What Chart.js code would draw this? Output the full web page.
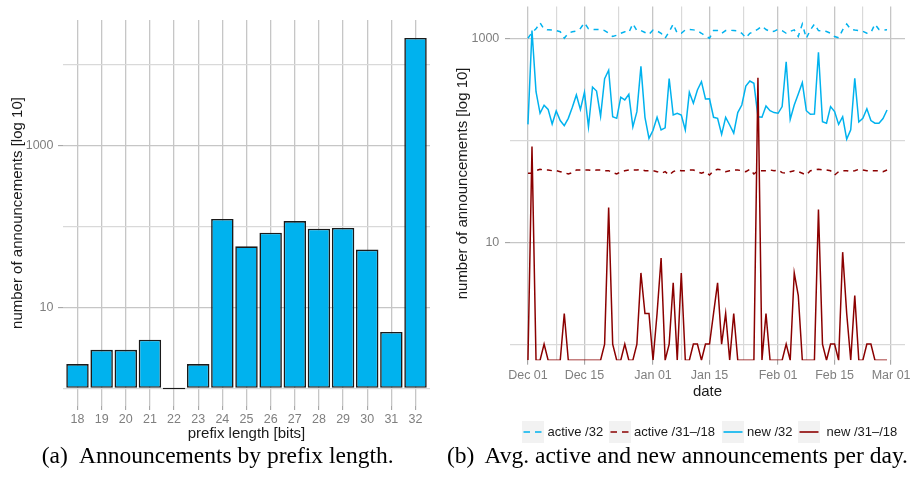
<!DOCTYPE html>
<html><head><meta charset="utf-8">
<script src="https://cdn.jsdelivr.net/npm/chart.js@4/dist/chart.umd.min.js"></script>
<style>
html,body{margin:0;padding:0;background:#fff;overflow:hidden;width:913px;height:481px;}
#wrap{position:relative;width:913px;height:481px;overflow:hidden;}
#c1{position:absolute;left:0;top:0;width:455px;height:445px;}
#c2{position:absolute;left:450px;top:-10px;width:470px;height:413px;}
.cap{position:absolute;top:444px;font-family:'Liberation Serif','Times New Roman',serif;font-size:23.5px;line-height:23px;white-space:nowrap;color:#000;}
.lg-key{position:absolute;top:420.5px;width:22px;height:22px;}
.lg-txt{position:absolute;top:420.5px;height:22px;line-height:22px;font-family:'Liberation Sans',Arial,sans-serif;font-size:13px;color:#1a1a1a;white-space:nowrap;}
</style></head>
<body><div id="wrap">
<canvas id="c1" width="455" height="445"></canvas>
<canvas id="c2" width="470" height="413"></canvas>
<span class="cap" style="left:41.7px">(a)</span>
<span class="cap" style="left:79px">Announcements by prefix length.</span>
<span class="cap" style="left:447px">(b)</span>
<span class="cap" style="left:484.5px">Avg. active and new announcements per day.</span>
<div id="legend"></div>
</div>
<script>
// ---------- Data: panel (a) ----------
const prefixLengths = [18,19,20,21,22,23,24,25,26,27,28,29,30,31,32];
const prefixAnnouncements = [2,3,3,4,1,2,124,57,84,117,94,96,52,5,21400];
const barYTickValues = [10,1000];
const barYTickLabels = ['10','1000'];
const barYMinorValues = [1,100,10000];

// ---------- Data: panel (b) ----------
const dateTickDays = [0,14,31,45,62,76,90];
const dateTickLabels = ['Dec 01','Dec 15','Jan 01','Jan 15','Feb 01','Feb 15','Mar 01'];
const dateMinorDays = [7,22.5,38,53.5,69,83];
const lineYTickValues = [10,1000];
const lineYTickLabels = ['10','1000'];
const lineYMinorValues = [1,100];
const seriesNames = ['active /32','active /31\u2013/18','new /32','new /31\u2013/18'];

const active32 = [1010,1150,1250,1430,1240,1220,1215,1200,1170,1010,
 1130,1170,1190,1260,1430,1250,1235,1230,1225,1200,
 1130,1050,1080,1130,1170,1150,1400,1200,1200,1150,
 1100,1215,1190,1130,1010,1170,1390,1130,1130,1220,
 1230,1220,1200,1130,1060,1010,1200,1200,1130,1200,
 1210,1200,1190,1130,1020,1130,1175,1240,1330,1230,
 1175,1180,1235,1200,1130,1180,1220,1050,1390,1010,
 1220,1390,1200,1190,1175,1130,1050,1020,1220,1390,
 1235,1215,1200,1180,1130,1150,1390,1230,1215,1220];
const active3118 = [47.6,47.6,50.5,52.1,51.3,51.3,50.5,50.5,49.4,48.3,
 46.9,48.3,51.3,51.3,51.3,51.3,50.5,51.3,51.3,50.5,
 50.5,48.3,46.9,49.4,50.5,51.3,51.3,51.3,52.1,50.5,
 50.5,50.5,49.4,47.6,49.4,45.8,49.4,51.3,50.5,50.5,
 51.3,51.3,49.4,47.6,49.4,45.8,50.5,52.1,51.3,49.4,
 50.5,51.3,51.3,50.5,49.4,52.1,46.9,50.5,50.5,50.5,
 51.3,50.5,51.3,48.3,47.6,49.4,50.5,49.4,47.6,45.8,
 50.5,51.3,52.1,51.3,51.3,50.5,45.8,49.4,50.5,50.5,
 49.4,50.5,52.1,51.3,50.5,50.5,50.5,50.5,49.4,51.3];
const new32 = [144,1199,301,185,222,202,145,195,157,140,
 165,212,280,202,297,136,335,306,173,405,
 489,171,165,266,250,284,136,192,535,169,
 105,126,169,127,133,405,178,185,178,127,
 297,232,313,378,256,257,169,165,115,169,
 142,118,188,223,343,384,365,171,169,218,
 196,188,185,215,594,161,223,286,370,196,
 181,182,735,153,148,215,192,144,171,103,
 127,408,152,165,205,157,148,148,164,199];
const new3118 = [0,87,0,0,1,0,0,0,0,2,
 0,0,0,0,0,0,0,0,0,1,
 22,1,0,0,1,0,0,1,5,2,
 2,0,2,7,0,1,4,0,5,0,
 0,1,1,0,1,1,2,4,1,2,
 0,2,0,0,0,0,0,414,0,2,
 0,0,0,0,1,0,5,3,0,0,
 0,0,21,1,0,1,1,0,8,2,
 0,3,0,0,1,1,0,0,0,0];
const dayIndex = active32.map((_, i) => i); // days since Dec 01

// ---------- Styles ----------
const BLUE = '#00b2ee', RED = '#8b0000';
const GRID_MAJOR = '#c6c6c6', GRID_MINOR = '#d9d9d9';
const TICK_COLOR = '#9a9a9a', TICK_LABEL = '#7f7f7f', TITLE = '#1a1a1a';
Chart.defaults.font.family = "'Liberation Sans', Arial, sans-serif";

function tickList(values){ return values.slice().sort((a,b)=>a-b).map(v=>({value:v})); }
function isIn(list, c){ return !!(c && c.tick && list.includes(c.tick.value)); }

// ---------- Panel (a) ----------
new Chart(document.getElementById('c1'), {
  type: 'bar',
  data: { datasets: [{
    data: prefixLengths.map((x,i)=>({x:x, y:prefixAnnouncements[i]})),
    backgroundColor: BLUE, borderColor: '#1a1a1a', borderWidth: 1.6, borderSkipped: false,
    base: 1, barPercentage: 0.93, categoryPercentage: 1, minBarLength: 1.6
  }]},
  options: {
    responsive: false, animation: false, events: [],
    layout: { padding: {left:0, top:20, right:25, bottom:0} },
    plugins: { legend:{display:false}, tooltip:{enabled:false} },
    scales: {
      x: { type:'linear', min:17.4, max:32.6, bounds:'data', offset:false,
        afterBuildTicks: s => { s.ticks = tickList(prefixLengths); },
        afterFit: s => { s.height = 39; },
        ticks: { autoSkip:false, maxRotation:0, minRotation:0, color:TICK_LABEL, font:{size:12.5}, padding:2,
                 callback: v => String(v) },
        grid: { offset:false, color:GRID_MAJOR, lineWidth:1.3, tickLength:4, tickColor:TICK_COLOR, tickWidth:1 },
        border: { display:false },
        title: { display:true, text:'prefix length [bits]', color:TITLE, font:{size:15, lineHeight:1}, padding:{top:0, bottom:3.5} }
      },
      y: { type:'logarithmic', min:0.607, max:35650, bounds:'data',
        afterBuildTicks: s => { s.ticks = tickList(barYTickValues.concat(barYMinorValues)); },
        afterFit: s => { s.width = 63; },
        ticks: { autoSkip:false, color:TICK_LABEL, font:{size:12.5}, padding:4.5,
                 callback: v => { const i = barYTickValues.indexOf(v); return i >= 0 ? barYTickLabels[i] : ''; } },
        grid: { color: c => isIn(barYTickValues, c) ? GRID_MAJOR : GRID_MINOR,
                lineWidth: c => isIn(barYTickValues, c) ? 1.3 : 1.2,
                tickLength:5, tickWidth:1,
                tickColor: c => isIn(barYTickValues, c) ? TICK_COLOR : 'rgba(0,0,0,0)' },
        border: { display:false },
        title: { display:true, text:'number of announcements [log 10]', color:TITLE, font:{size:15, lineHeight:1}, padding:{top:10.6, bottom:0} }
      }
    }
  }
});

// ---------- Panel (b) ----------
const yFloor = 0.695;   // bottom of the log axis; days with zero are drawn there
const yCeil = 2065;
function pts(arr){ return arr.map((v,i)=>({x:dayIndex[i], y: v > 0 ? v : yFloor})); }
new Chart(document.getElementById('c2'), {
  type: 'line',
  data: { datasets: [
    { label: seriesNames[0], data: pts(active32),   borderColor: BLUE, borderDash:[5,5], order:4 },
    { label: seriesNames[1], data: pts(active3118), borderColor: RED,  borderDash:[5,5], order:3 },
    { label: seriesNames[2], data: pts(new32),      borderColor: BLUE, order:2 },
    { label: seriesNames[3], data: pts(new3118),    borderColor: RED,  order:1 }
  ]},
  options: {
    responsive: false, animation: false, events: [],
    layout: { padding: {left:0, top:16.6, right:15, bottom:0} },
    elements: { line:{borderWidth:1.5, tension:0, fill:false}, point:{radius:0} },
    plugins: { legend:{display:false}, tooltip:{enabled:false} },
    scales: {
      x: { type:'linear', min:-4.45, max:93.45, bounds:'data', offset:false,
        afterBuildTicks: s => { s.ticks = tickList(dateTickDays.concat(dateMinorDays)); },
        afterFit: s => { s.height = 42.8; },
        ticks: { autoSkip:false, maxRotation:0, minRotation:0, color:TICK_LABEL, font:{size:12.5}, padding:3.3,
                 callback: v => { const i = dateTickDays.indexOf(v); return i >= 0 ? dateTickLabels[i] : ''; } },
        grid: { color: c => isIn(dateTickDays, c) ? GRID_MAJOR : GRID_MINOR,
                lineWidth: c => isIn(dateTickDays, c) ? 1.3 : 1.2,
                tickLength:4.5, tickWidth:1,
                tickColor: c => isIn(dateTickDays, c) ? TICK_COLOR : 'rgba(0,0,0,0)' },
        border: { display:false },
        title: { display:true, text:'date', color:TITLE, font:{size:15, lineHeight:1}, padding:{top:0, bottom:4} }
      },
      y: { type:'logarithmic', min:yFloor, max:yCeil, bounds:'data',
        afterBuildTicks: s => { s.ticks = tickList(lineYTickValues.concat(lineYMinorValues)); },
        afterFit: s => { s.width = 60; },
        ticks: { autoSkip:false, color:TICK_LABEL, font:{size:12.5}, padding:5.7,
                 callback: v => { const i = lineYTickValues.indexOf(v); return i >= 0 ? lineYTickLabels[i] : ''; } },
        grid: { color: c => isIn(lineYTickValues, c) ? GRID_MAJOR : GRID_MINOR,
                lineWidth: c => isIn(lineYTickValues, c) ? 1.3 : 1.2,
                tickLength:5, tickWidth:1,
                tickColor: c => isIn(lineYTickValues, c) ? TICK_COLOR : 'rgba(0,0,0,0)' },
        border: { display:false },
        title: { display:true, text:'number of announcements [log 10]', color:TITLE, font:{size:15, lineHeight:1}, padding:{top:4.9, bottom:0} }
      }
    }
  }
});

// ---------- Legend (panel b) ----------
const legendKeys = [
  {color: BLUE, dashed: true,  keyX: 521.5, textX: 547.5},
  {color: RED,  dashed: true,  keyX: 608.5, textX: 634},
  {color: BLUE, dashed: false, keyX: 721.5, textX: 747},
  {color: RED,  dashed: false, keyX: 798,   textX: 826.5}
];
const lg = document.getElementById('legend');
legendKeys.forEach((k, i) => {
  const key = document.createElement('div');
  key.className = 'lg-key';
  key.style.left = k.keyX + 'px';
  key.innerHTML = '<svg width="22" height="22" xmlns="http://www.w3.org/2000/svg">' +
    '<rect x="0" y="0" width="22" height="22" fill="#f2f2f2"/>' +
    '<line x1="1.5" y1="11" x2="20.5" y2="11" stroke="' + k.color + '" stroke-width="1.6"' +
    (k.dashed ? ' stroke-dasharray="6.5,5"' : '') + '/></svg>';
  lg.appendChild(key);
  const t = document.createElement('div');
  t.className = 'lg-txt';
  t.style.left = k.textX + 'px';
  t.textContent = seriesNames[i];
  lg.appendChild(t);
});
</script>
</body></html>
